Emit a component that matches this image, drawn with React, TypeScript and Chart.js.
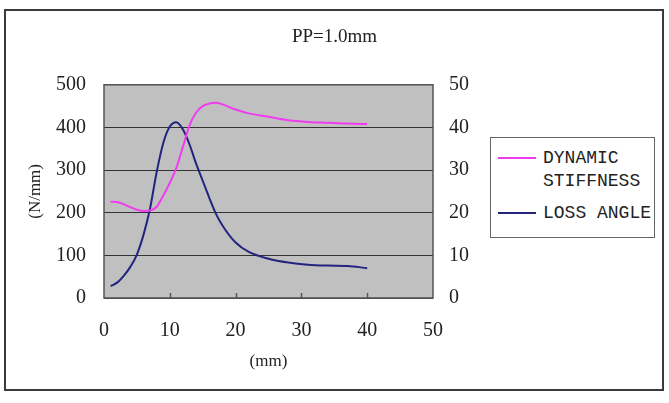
import { useEffect, useRef } from "react";
import { Chart, registerables, Plugin } from "chart.js";

Chart.register(...registerables);

// distance (mm) at which each sample was read
const positions = [1, 2, 3, 4, 5, 6, 7, 8, 9, 10, 11, 12, 13, 14, 15, 16, 17, 18, 20, 22, 25, 28, 31, 34, 37, 40];
// N/mm, left axis
const dynamicStiffness = [226, 225, 220, 213, 207, 204, 205, 214, 240, 270, 305, 355, 405, 435, 450, 456, 458, 454, 442, 433, 425, 417, 413, 411, 409, 408];
// right axis
const lossAngle = [2.8, 3.6, 5.2, 7.3, 10.2, 14.8, 21, 29.5, 36.3, 40.2, 41.2, 39.5, 36, 31.5, 27.5, 23.5, 19.8, 17, 13, 10.8, 9.2, 8.3, 7.8, 7.6, 7.5, 7.0];

const xTicks = [10, 20, 30, 40];

const seriesNames = ["DYNAMIC STIFFNESS", "LOSS ANGLE"];
const seriesColors = ["#f03cf0", "#24247e"];

const serif = "'Liberation Serif', 'DejaVu Serif', serif";
const mono = "'Liberation Mono', 'DejaVu Sans Mono', monospace";

const plotFrame: Plugin<"line"> = {
    id: "plotFrame",
    beforeDraw(chart) {
        const { ctx, chartArea: a } = chart;
        ctx.save();
        ctx.fillStyle = "#c0c0c0";
        ctx.fillRect(a.left, a.top, a.right - a.left, a.bottom - a.top);
        ctx.restore();
    },
    afterDraw(chart) {
        const { ctx, chartArea: a } = chart;
        const x = chart.scales.x;
        ctx.save();
        ctx.strokeStyle = "#555";
        ctx.lineWidth = 1.5;
        ctx.strokeRect(a.left, a.top, a.right - a.left, a.bottom - a.top);
        ctx.beginPath();
        xTicks.forEach((t) => {
            const px = Math.round(x.getPixelForValue(t)) + 0.5;
            ctx.moveTo(px, a.bottom);
            ctx.lineTo(px, a.bottom - 5);
        });
        ctx.stroke();
        ctx.restore();
    },
};

export default function App() {
    const canvasRef = useRef<HTMLCanvasElement | null>(null);
    const chartRef = useRef<Chart | null>(null);

    useEffect(() => {
        document.body.style.margin = "0";
        if (!canvasRef.current) return;
        if (chartRef.current) { chartRef.current.destroy(); }

        chartRef.current = new Chart(canvasRef.current, {
            type: "line",
            data: {
                datasets: [
                    {
                        label: seriesNames[0],
                        data: positions.map((p, i) => ({ x: p, y: dynamicStiffness[i] })),
                        borderColor: seriesColors[0],
                        borderWidth: 2,
                        pointRadius: 0,
                        cubicInterpolationMode: "monotone",
                        yAxisID: "y",
                    },
                    {
                        label: seriesNames[1],
                        data: positions.map((p, i) => ({ x: p, y: lossAngle[i] })),
                        borderColor: seriesColors[1],
                        borderWidth: 2,
                        pointRadius: 0,
                        cubicInterpolationMode: "monotone",
                        yAxisID: "y1",
                    },
                ],
            },
            options: {
                animation: false,
                responsive: true,
                maintainAspectRatio: false,
                layout: { padding: 0 },
                plugins: {
                    legend: { display: false },
                    tooltip: { enabled: false },
                    title: {
                        display: true,
                        text: "PP=1.0mm",
                        color: "#222",
                        font: { family: serif, size: 19, weight: "normal" },
                        padding: { top: 26, bottom: 36 },
                    },
                },
                scales: {
                    x: {
                        type: "linear",
                        min: 0,
                        max: 50,
                        ticks: { stepSize: 10, padding: 13, color: "#222", font: { family: serif, size: 20 } },
                        grid: { display: false },
                        border: { display: false },
                        title: {
                            display: true,
                            text: "(mm)",
                            color: "#222",
                            font: { family: serif, size: 17 },
                            padding: { top: 0, bottom: 31 },
                        },
                        afterFit: (s) => { s.height = 105; },
                    },
                    y: {
                        position: "left",
                        min: 0,
                        max: 500,
                        ticks: { stepSize: 100, padding: 18, color: "#222", font: { family: serif, size: 20 } },
                        grid: { color: "#333", lineWidth: 1, drawTicks: false },
                        border: { display: false },
                        title: {
                            display: true,
                            text: "(N/mm)",
                            color: "#222",
                            font: { family: serif, size: 17 },
                            padding: { top: 25, bottom: 0 },
                        },
                        afterFit: (s) => { s.width = 104; },
                    },
                    y1: {
                        position: "right",
                        min: 0,
                        max: 50,
                        ticks: { stepSize: 10, padding: 16, color: "#222", font: { family: serif, size: 20 } },
                        grid: { display: false, drawTicks: false },
                        border: { display: false },
                        afterFit: (s) => { s.width = 236; },
                    },
                },
            },
            plugins: [plotFrame],
        });

        return () => {
            if (chartRef.current) {
                chartRef.current.destroy();
                chartRef.current = null;
            }
        };
    }, []);

    const textStyle = {
        position: "absolute" as const,
        left: 52,
        font: `18px ${mono}`,
        lineHeight: "22px",
        color: "#222",
        whiteSpace: "nowrap" as const,
    };

    return (
        <div style={{ position: "relative", width: 669, height: 403, background: "#fff" }}>
            <canvas ref={canvasRef} style={{ display: "block" }} />
            <div style={{ position: "absolute", left: 4, top: 9, width: 660, height: 382, boxSizing: "border-box", border: "2px solid #3a3a3a", pointerEvents: "none" }} />
            <div style={{ position: "absolute", left: 490, top: 137, width: 165, height: 101, boxSizing: "border-box", border: "1px solid #666", background: "#fff" }}>
                <div style={{ position: "absolute", left: 7, top: 19, width: 38, height: 2, background: seriesColors[0] }} />
                <div style={{ ...textStyle, top: 9 }}>DYNAMIC</div>
                <div style={{ ...textStyle, top: 32 }}>STIFFNESS</div>
                <div style={{ position: "absolute", left: 7, top: 74, width: 38, height: 2, background: seriesColors[1] }} />
                <div style={{ ...textStyle, top: 64 }}>LOSS ANGLE</div>
            </div>
        </div>
    );
}
